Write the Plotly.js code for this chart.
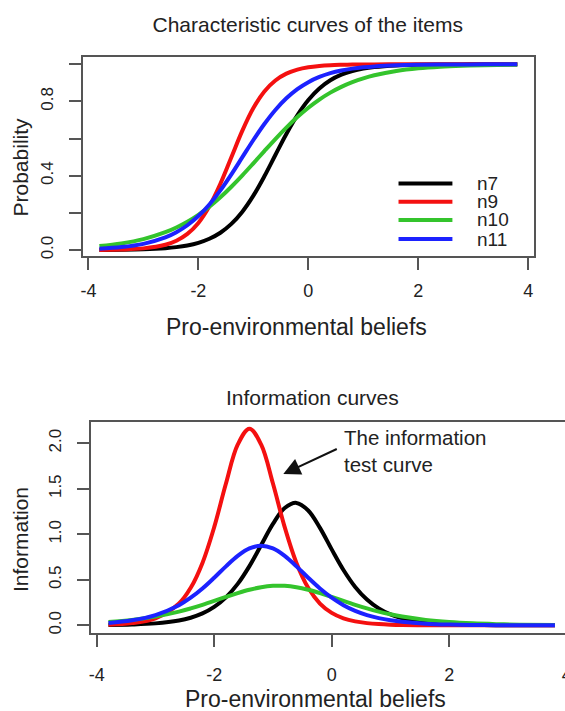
<!DOCTYPE html>
<html><head><meta charset="utf-8">
<script src="https://cdn.plot.ly/plotly-3.0.1.min.js"></script>
<style>html,body{margin:0;padding:0;overflow:hidden;background:#fff}#chart{width:600px;height:711px}</style>
</head><body><div id="chart"></div>
<script>
// ---- data ----
const theta = [-3.8,-3.4,-3.0,-2.6,-2.4,-2.2,-2.0,-1.8,-1.6,-1.4,-1.2,-1.0,-0.8,-0.6,-0.4,-0.2,0.0,0.2,0.4,0.6,0.8,1.0,1.2,1.6,2.0,2.4,2.8,3.2,3.8];
const itemNames = ['n7','n9','n10','n11'];
// Item characteristic curves (probability)
const prob_n7  = [0.0006,0.0016,0.0040,0.0100,0.0158,0.0249,0.0391,0.0608,0.0933,0.1407,0.2066,0.2928,0.3970,0.5116,0.6248,0.7259,0.8082,0.8701,0.9142,0.9443,0.9642,0.9772,0.9855,0.9942,0.9977,0.9991,0.9996,0.9999,1.0000];
const prob_n9  = [0.0009,0.0028,0.0090,0.0285,0.0502,0.0869,0.1462,0.2358,0.3571,0.5000,0.6429,0.7642,0.8538,0.9131,0.9498,0.9715,0.9840,0.9910,0.9950,0.9972,0.9985,0.9991,0.9995,0.9998,0.9999,1.0000,1.0000,1.0000,1.0000];
const prob_n10 = [0.0213,0.0356,0.0589,0.0959,0.1213,0.1524,0.1897,0.2336,0.2841,0.3408,0.4023,0.4670,0.5330,0.5977,0.6592,0.7159,0.7664,0.8103,0.8476,0.8787,0.9041,0.9247,0.9411,0.9644,0.9787,0.9873,0.9925,0.9956,0.9980];
const prob_n11 = [0.0077,0.0161,0.0334,0.0680,0.0959,0.1335,0.1830,0.2456,0.3212,0.4076,0.5000,0.5924,0.6788,0.7544,0.8170,0.8665,0.9041,0.9320,0.9522,0.9666,0.9768,0.9839,0.9889,0.9947,0.9975,0.9988,0.9994,0.9997,0.9999];
// Item information curves
const info_n7  = [0.0034,0.0085,0.0214,0.0533,0.0837,0.1307,0.2022,0.3073,0.4553,0.6508,0.8823,1.1145,1.2885,1.3449,1.2618,1.0709,0.8343,0.6084,0.4222,0.2831,0.1858,0.1199,0.0769,0.0310,0.0123,0.0048,0.0019,0.0008,0.0002];
const info_n9  = [0.0074,0.0241,0.0771,0.2393,0.4121,0.6859,1.0790,1.5576,1.9844,2.1609,1.9844,1.5576,1.0790,0.6859,0.4121,0.2393,0.1365,0.0771,0.0430,0.0241,0.0134,0.0074,0.0041,0.0013,0.0004,0.0001,0.0000,0.0000,0.0000];
const info_n10 = [0.0363,0.0598,0.0966,0.1511,0.1857,0.2251,0.2678,0.3119,0.3544,0.3914,0.4190,0.4337,0.4337,0.4190,0.3914,0.3544,0.3119,0.2678,0.2251,0.1857,0.1511,0.1213,0.0966,0.0598,0.0363,0.0218,0.0131,0.0077,0.0035];
const info_n11 = [0.0267,0.0554,0.1129,0.2216,0.3032,0.4045,0.5228,0.6479,0.7624,0.8444,0.8742,0.8444,0.7624,0.6479,0.5228,0.4045,0.3032,0.2216,0.1592,0.1129,0.0792,0.0554,0.0389,0.0185,0.0088,0.0042,0.0020,0.0009,0.0003];
// Tick labels
const xTickVals = [-4,-2,0,2,4];
const xTickText = ['-4','-2','0','2','4'];
const probTickVals = [0,0.2,0.4,0.6,0.8,1.0];
const probTickText = ['0.0','','0.4','','0.8',''];
const infoTickVals = [0,0.5,1.0,1.5,2.0];
const infoTickText = ['0.0','0.5','1.0','1.5','2.0'];
// Texts
const topTitle = 'Characteristic curves of the items';
const bottomTitle = 'Information curves';
const xLabel = 'Pro-environmental beliefs';
const yLabelTop = 'Probability';
const yLabelBottom = 'Information';
const noteText = 'The information<br>test curve';

// ---- styling / layout ----
const colors = ['#000000','#f41010','#34c42c','#1c22ff'];
const probSeries = [prob_n7, prob_n9, prob_n10, prob_n11];
const infoSeries = [info_n7, info_n9, info_n10, info_n11];
const W = 600, H = 711;
const FONT = 'Liberation Sans, Arial, Helvetica, sans-serif';
const TXT = '#222222';
const AX = '#555555';
const px = v => v / W;
const py = v => 1 - v / H;

const traces = [];
itemNames.forEach((nm, i) => {
  traces.push({x: theta, y: probSeries[i], xaxis: 'x', yaxis: 'y', type: 'scatter', mode: 'lines',
    name: nm, showlegend: false, line: {color: colors[i], width: 4, shape: 'spline', smoothing: 1}, hoverinfo: 'skip'});
});
itemNames.forEach((nm, i) => {
  traces.push({x: theta, y: infoSeries[i], xaxis: 'x2', yaxis: 'y2', type: 'scatter', mode: 'lines',
    name: nm, showlegend: false, line: {color: colors[i], width: 4, shape: 'spline', smoothing: 1}, hoverinfo: 'skip'});
});

function axisBase(extra) {
  return Object.assign({
    showgrid: false, zeroline: false, showline: true, mirror: true,
    linecolor: AX, linewidth: 2, ticks: 'outside', ticklen: 12, tickwidth: 2, tickcolor: AX,
    tickfont: {family: FONT, size: 18, color: TXT}, fixedrange: true
  }, extra);
}

const layout = {
  width: W, height: H,
  margin: {l: 0, r: 0, t: 0, b: 0, pad: 0},
  paper_bgcolor: '#ffffff', plot_bgcolor: '#ffffff',
  font: {family: FONT, color: TXT},
  title: {text: topTitle, x: px(307.7), xanchor: 'center', xref: 'paper', y: py(25), yanchor: 'middle', yref: 'container',
    font: {family: FONT, size: 21, color: TXT}},
  xaxis: axisBase({domain: [px(82.7), px(534)], range: [-4.104, 4.104], anchor: 'y',
    tickmode: 'array', tickvals: xTickVals, ticktext: xTickText, ticklabelstandoff: 5}),
  yaxis: axisBase({domain: [py(256), py(56.7)], range: [-0.032, 1.041], anchor: 'x',
    tickmode: 'array', tickvals: probTickVals, ticktext: probTickText, tickangle: -90, ticklabelstandoff: 9,
    tickfont: {family: FONT, size: 17, color: TXT}}),
  xaxis2: axisBase({domain: [px(90.6), px(572.8)], range: [-4.104, 4.104], anchor: 'y2',
    tickmode: 'array', tickvals: xTickVals, ticktext: xTickText, ticklabelstandoff: 13}),
  yaxis2: axisBase({domain: [py(632.7), py(421.7)], range: [-0.081, 2.237], anchor: 'x2',
    tickmode: 'array', tickvals: infoTickVals, ticktext: infoTickText, tickangle: -90, ticklabelstandoff: 9,
    tickfont: {family: FONT, size: 17, color: TXT}}),
  shapes: [],
  annotations: [
    {text: bottomTitle, xref: 'paper', yref: 'paper', x: px(312.6), y: py(397), xanchor: 'center', yanchor: 'middle',
      showarrow: false, font: {family: FONT, size: 21, color: TXT}},
    {text: xLabel, xref: 'paper', yref: 'paper', x: px(296), y: py(326.5), xanchor: 'center', yanchor: 'middle',
      showarrow: false, font: {family: FONT, size: 23, color: TXT}},
    {text: xLabel, xref: 'paper', yref: 'paper', x: px(316), y: py(699), xanchor: 'center', yanchor: 'middle',
      showarrow: false, font: {family: FONT, size: 23, color: TXT}},
    {text: yLabelTop, xref: 'paper', yref: 'paper', x: px(20), y: py(167.5), xanchor: 'center', yanchor: 'middle',
      textangle: -90, showarrow: false, font: {family: FONT, size: 21, color: TXT}},
    {text: yLabelBottom, xref: 'paper', yref: 'paper', x: px(20), y: py(540), xanchor: 'center', yanchor: 'middle',
      textangle: -90, showarrow: false, font: {family: FONT, size: 21, color: TXT}},
    {text: noteText, xref: 'x2', yref: 'y2', x: 0.17, y: 1.918, xanchor: 'left', yanchor: 'middle', align: 'left',
      showarrow: false, font: {family: FONT, size: 20.5, color: TXT}},
    {text: '', xref: 'x2', yref: 'y2', x: -0.824, y: 1.663, axref: 'x2', ayref: 'y2', ax: 0.112, ay: 1.945,
      showarrow: true, arrowhead: 2, arrowsize: 1.7, arrowwidth: 2, arrowcolor: '#111111', standoff: 0}
  ]
};

// legend (R-style, no box), in data coordinates of the top panel
const legX0 = 1.64, legX1 = 2.62, legTextX = 3.03;
const legY = [0.359, 0.260, 0.162, 0.059];
itemNames.forEach((nm, i) => {
  layout.shapes.push({type: 'line', xref: 'x', yref: 'y', x0: legX0, x1: legX1, y0: legY[i], y1: legY[i],
    line: {color: colors[i], width: 4}});
  layout.annotations.push({text: nm, xref: 'x', yref: 'y', x: legTextX, y: legY[i], xanchor: 'left', yanchor: 'middle',
    showarrow: false, font: {family: FONT, size: 19, color: TXT}});
});

Plotly.newPlot('chart', traces, layout, {staticPlot: true, displayModeBar: false});
</script>
</body></html>
